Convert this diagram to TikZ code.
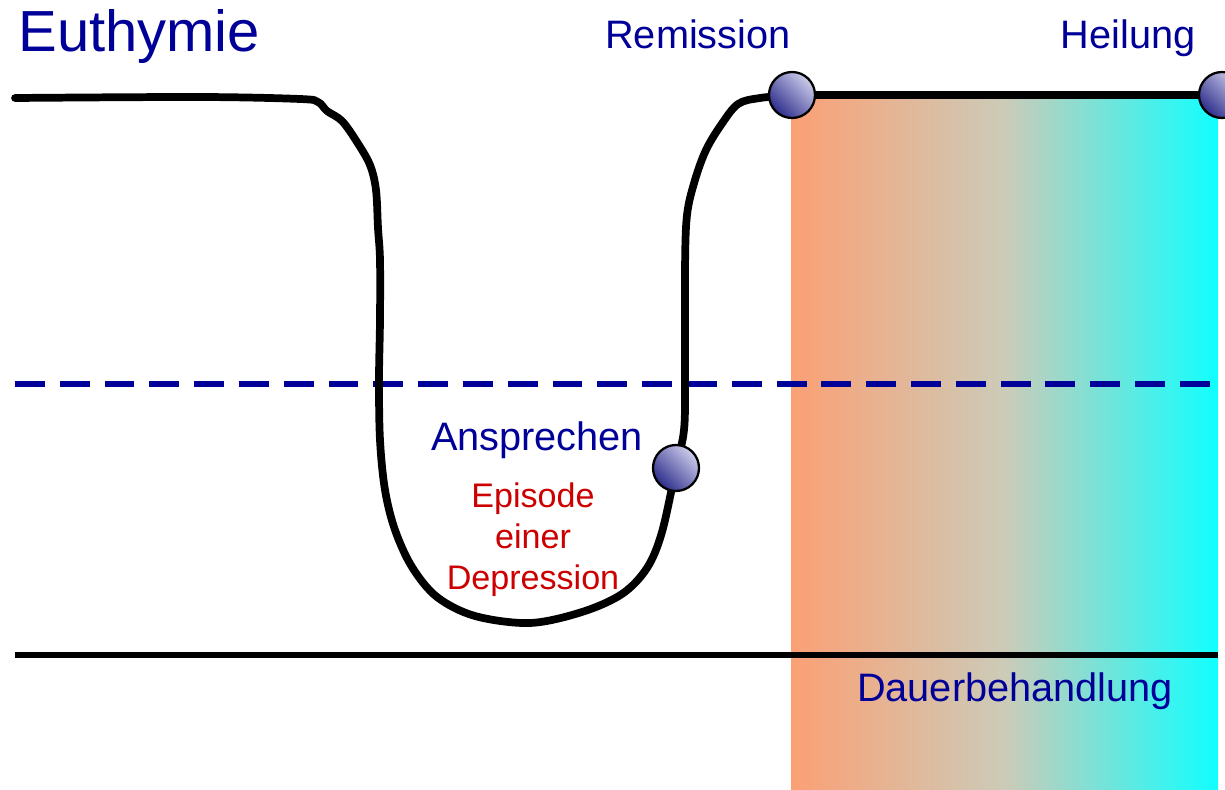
\documentclass[tikz,border=0pt]{standalone}
\usepackage{fontspec}
\setmainfont{Liberation Sans}
\definecolor{navytxt}{RGB}{0,0,153}
\definecolor{redtxt}{RGB}{204,0,0}
\definecolor{salmon}{RGB}{251,160,117}
\definecolor{midgrey}{RGB}{204,203,184}
\definecolor{cyanish}{RGB}{16,255,255}
\definecolor{balllight}{RGB}{205,205,235}
\definecolor{balldark}{RGB}{45,45,140}
\tikzset{
  curveline/.style={line width=4.4pt, line join=round, line cap=round},
  ball/.style={circle, draw=black, line width=1.3pt, minimum size=0.92cm, inner sep=0pt,
    shading=axis, top color=balllight, bottom color=balldark, shading angle=-45},
  bigtxt/.style={font=\fontsize{22.6}{26}\selectfont, text=navytxt, inner sep=0pt, anchor=base},
  redlbl/.style={font=\fontsize{19.4}{23.5}\selectfont, text=redtxt, align=center, inner sep=0pt},
  dashline/.style={draw=navytxt, line width=3.4pt, dash pattern=on 17pt off 8.5pt},
  baseline/.style={line width=3.6pt}
}
\begin{document}
\begin{tikzpicture}[x=0.02cm, y=-0.02cm]
\useasboundingbox (0,0) rectangle (1225,790);
\clip (0,0) rectangle (1225,790);
% gradient background
\shade[left color=salmon, right color=cyanish, middle color=midgrey] (791,98) rectangle (1218,790);
% dashed threshold
\coordinate (dA) at (15,384);
\coordinate (dB) at (1218,384);
\draw[dashline] (dA) -- (dB);
% baseline
\coordinate (bA) at (15,655);
\coordinate (bB) at (1218,655);
\draw[baseline] (bA) -- (bB);
% curve
\draw[curveline] plot[smooth, tension=0.55] coordinates {
  (15,98) (200,97) (300,99) (318,102) (327,111) (342,121) (357,142) (370,165) (376,190) (378,228)
  (380,260) (380,320) (379,380) (380,440) (385,490) (395,530) (412,567) (437,597) (475,616)
  (530,623) (582,612) (622,594) (647,568) (662,532) (676,468) (684,430) (685,380) (685,270)
  (687,215) (695,180) (706,150) (721,125) (738,104) (760,98) (792,95)};
% circles
\node[ball] (resp) at (676,468) {};
\node[ball] (rem) at (792,95) {};
\node[ball] (heil) at (1222,95) {};
\draw[curveline, line cap=butt] (rem.east) -- (heil.west);
% texts
\node[anchor=base west, inner sep=0pt, text=navytxt, font=\fontsize{33}{38}\selectfont] (eu) at (18,52) {Euthymie};
\node[bigtxt] (remt) at (698,49) {Remission};
\node[bigtxt] (heilt) at (1128,49) {Heilung};
\node[bigtxt] (ansp) at (537,451) {Ansprechen};
\node[redlbl, anchor=base] (epi) at (533,590) {Episode\\einer\\Depression};
\node[bigtxt] (dauer) at (1015,702) {Dauerbehandlung};
\end{tikzpicture}
\end{document}
